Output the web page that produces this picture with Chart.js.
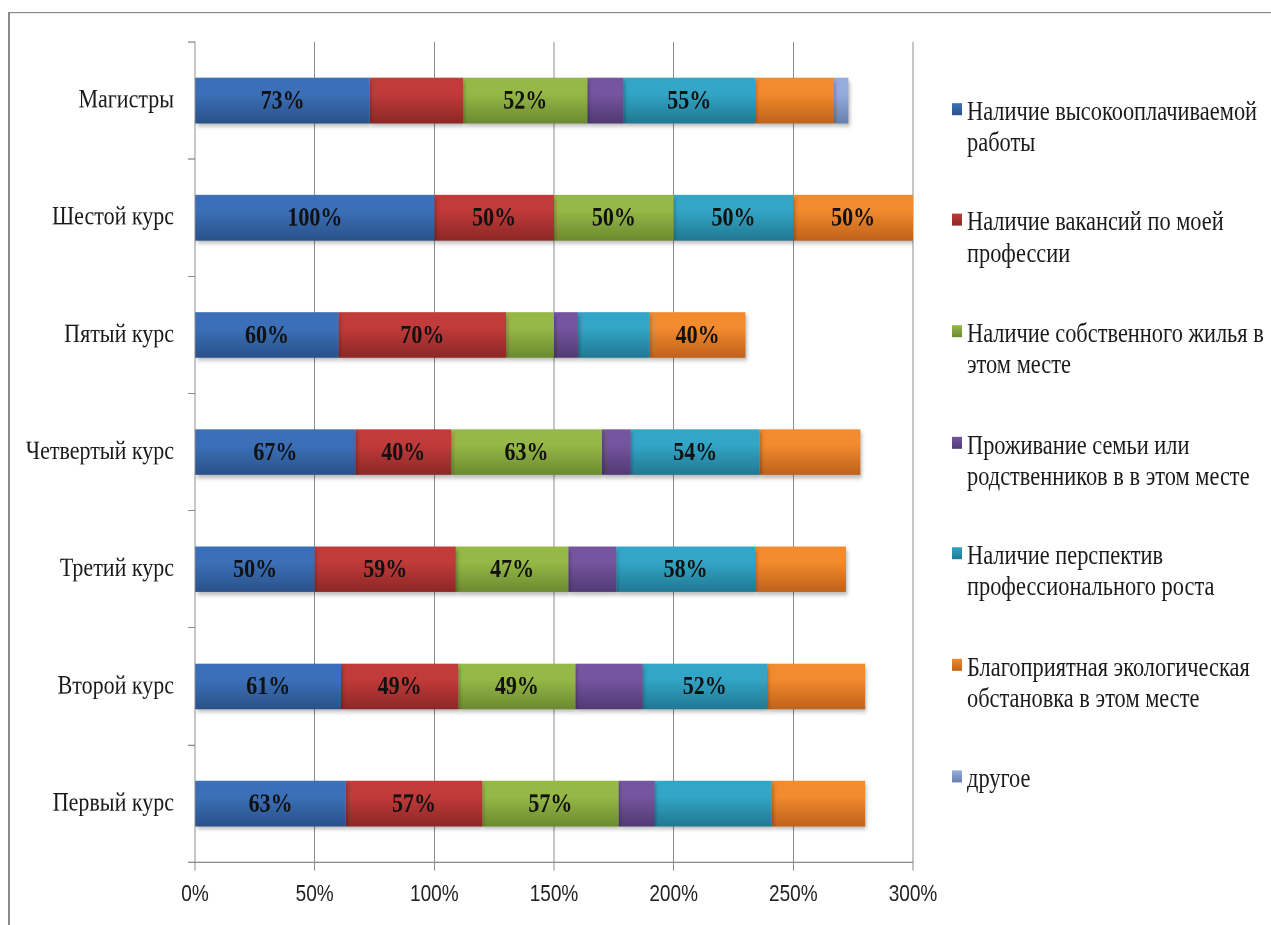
<!DOCTYPE html>
<html lang="ru">
<head>
<meta charset="utf-8">
<title>Факторы выбора места работы</title>
<script src="https://cdn.jsdelivr.net/npm/chart.js@4.4.1/dist/chart.umd.min.js"></script>
<style>
  html, body { margin: 0; padding: 0; background: #fff; overflow: hidden; }
  /* the original picture is stretched vertically, so everything is laid out at 1/1.2 height */
  #stage { position: absolute; left: 0; top: 0; width: 1271px; height: 771px; transform: scaleY(1.2); transform-origin: 0 0; }
  #frame { position: absolute; left: 8px; top: 10px; width: 1300px; height: 820px; border-top: 1.8px solid #8a8a8a; border-left: 2px solid #8a8a8a; }
  #box { position: absolute; left: 0; top: 0; width: 1271px; height: 771px; }
  #legend { position: absolute; left: 952px; top: 0; font-family: 'Liberation Serif', 'Times New Roman', serif; font-size: 22.4px; line-height: 26px; color: #1a1a1a; }
  .item { position: absolute; left: 0; white-space: pre; }
  .item .mark { position: absolute; left: 0; top: 6px; width: 10px; height: 10px; }
  .item .txt { position: absolute; left: 15px; top: 0; }
</style>
</head>
<body>
<div id="stage">
  <div id="frame"></div>
  <div id="box"><canvas id="myChart"></canvas></div>
  <div id="legend"></div>
</div>
<script>
const categories = ['Магистры', 'Шестой курс', 'Пятый курс', 'Четвертый курс', 'Третий курс', 'Второй курс', 'Первый курс'];

const seriesNames = [
  'Наличие высокооплачиваемой\nработы',
  'Наличие вакансий по моей\nпрофессии',
  'Наличие собственного жилья в\nэтом месте',
  'Проживание семьи или\nродственников в в этом месте',
  'Наличие перспектив\nпрофессионального роста',
  'Благоприятная экологическая\nобстановка в этом месте',
  'другое'
];

const highPay  = [73, 100, 60, 67, 50, 61, 63];
const vacancy  = [39, 50, 70, 40, 59, 49, 57];
const housing  = [52, 50, 20, 63, 47, 49, 57];
const family   = [15, 0, 10, 12, 20, 28, 15];
const growth   = [55, 50, 30, 54, 58, 52, 49];
const ecology  = [33, 50, 40, 42, 38, 41, 39];
const other    = [6, 0, 0, 0, 0, 0, 0];

// which series carry a value label, per category (as in the original)
const labelledSeries = [
  [0, 2, 4],
  [0, 1, 2, 4, 5],
  [0, 1, 5],
  [0, 1, 2, 4],
  [0, 1, 2, 4],
  [0, 1, 2, 4],
  [0, 1, 2]
];

const xTicks = [0, 50, 100, 150, 200, 250, 300];

const seriesValues = [highPay, vacancy, housing, family, growth, ecology, other];
const colors = [
  ['#3b70b8', '#2a5189'],
  ['#c03b3a', '#8c2826'],
  ['#95b847', '#6c8a30'],
  ['#75559f', '#513a74'],
  ['#33a5c6', '#217892'],
  ['#f28a2e', '#bf621b'],
  ['#93aedd', '#6781ad']
];
const barPct = 0.39;
const gridColor = '#8c8c8c';

const shade = (top, bottom) => (context) => {
  const chart = context.chart;
  const area = chart.chartArea;
  if (!area || context.type !== 'data') return top;
  const y = chart.scales.y.getPixelForValue(context.dataIndex);
  const half = (area.bottom - area.top) / categories.length * barPct / 2;
  const g = chart.ctx.createLinearGradient(0, y - half, 0, y + half);
  g.addColorStop(0, top);
  g.addColorStop(0.35, top);
  g.addColorStop(1, bottom);
  return g;
};

const barDecor = {
  id: 'barDecor',
  beforeDatasetsDraw(chart) {
    const c = chart.ctx;
    c.save();
    c.shadowColor = 'rgba(0,0,0,0.28)';
    c.shadowBlur = 7;
    c.shadowOffsetX = 3;
    c.shadowOffsetY = 5;
  },
  afterDatasetsDraw(chart) {
    const c = chart.ctx;
    c.restore();
    c.save();
    c.font = 'bold 22px "Liberation Serif", "Times New Roman", serif';
    c.fillStyle = '#111';
    c.textAlign = 'center';
    c.textBaseline = 'middle';
    chart.data.datasets.forEach((ds, si) => {
      chart.getDatasetMeta(si).data.forEach((bar, ci) => {
        if (!labelledSeries[ci].includes(si)) return;
        c.fillText(ds.data[ci] + '%', (bar.x + bar.base) / 2, bar.y + 1);
      });
    });
    c.restore();
  }
};

const ctx = document.querySelector('#myChart');
const myChart = new Chart(ctx, {
  type: 'bar',
  data: {
    labels: categories,
    datasets: seriesValues.map((vals, i) => ({
      label: seriesNames[i].replace('\n', ' '),
      data: vals,
      backgroundColor: shade(colors[i][0], colors[i][1]),
      borderWidth: 0,
      barPercentage: barPct,
      categoryPercentage: 1
    }))
  },
  options: {
    indexAxis: 'y',
    responsive: true,
    maintainAspectRatio: false,
    animation: false,
    devicePixelRatio: 2,
    layout: { padding: { left: 0, top: 35, right: 358, bottom: 0 } },
    plugins: {
      legend: { display: false },
      tooltip: { enabled: false }
    },
    scales: {
      x: {
        stacked: true,
        min: 0,
        max: 300,
        afterBuildTicks: (scale) => { scale.ticks = xTicks.map(v => ({ value: v })); },
        afterFit: (scale) => { scale.height = 52.5; },
        border: { display: true, color: gridColor, width: 1 },
        grid: { color: gridColor, lineWidth: 1, tickLength: 7, drawTicks: true },
        ticks: {
          padding: 9,
          color: '#222',
          font: { family: '"Liberation Sans", Arial, sans-serif', size: 19 },
          callback: (v) => v + '%'
        }
      },
      y: {
        stacked: true,
        afterFit: (scale) => { scale.width = 195; },
        border: { display: true, color: gridColor, width: 1 },
        grid: { drawOnChartArea: false, offset: true, color: gridColor, tickLength: 7 },
        ticks: {
          padding: 14,
          color: '#1a1a1a',
          font: { family: '"Liberation Serif", "Times New Roman", serif', size: 22 }
        }
      }
    }
  },
  plugins: [barDecor]
});

// legend as real text at the right side
const legend = document.querySelector('#legend');
seriesNames.forEach((name, i) => {
  const item = document.createElement('div');
  item.className = 'item';
  item.style.top = (79.5 + i * 92.7) + 'px';
  const mark = document.createElement('span');
  mark.className = 'mark';
  mark.style.background = `linear-gradient(to bottom, ${colors[i][0]}, ${colors[i][1]})`;
  const txt = document.createElement('span');
  txt.className = 'txt';
  txt.textContent = name;
  item.appendChild(mark);
  item.appendChild(txt);
  legend.appendChild(item);
});
</script>
</body>
</html>
